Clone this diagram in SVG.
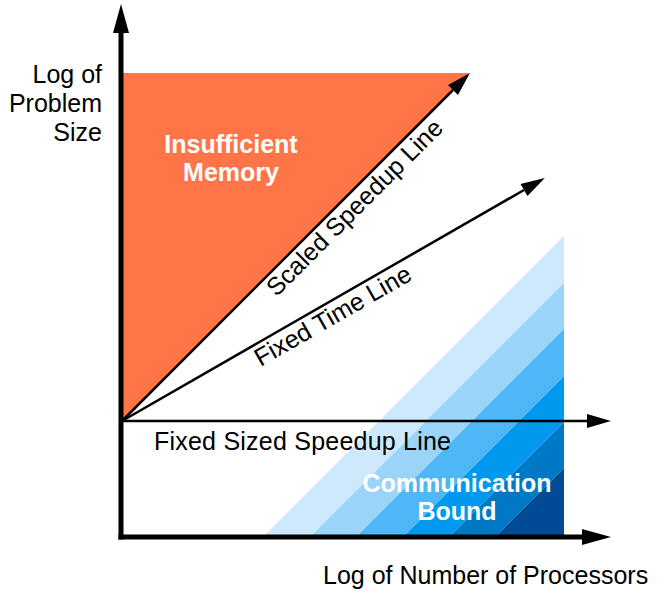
<svg xmlns="http://www.w3.org/2000/svg" width="659" height="592" viewBox="0 0 659 592">
  <style>
    .label { font-family: "Liberation Sans", Arial, Helvetica, sans-serif; font-size: 25px; fill: #000; }
    .region { font-family: "Liberation Sans", Arial, Helvetica, sans-serif; font-size: 25px; font-weight: bold; fill: #fff; text-anchor: middle; }
    .axis { stroke: #000; stroke-width: 5; fill: none; stroke-linecap: square; }
    .line { stroke: #000; stroke-width: 2.5; fill: none; }
  </style>
  <defs>
    <marker id="head-thick" markerUnits="userSpaceOnUse" markerWidth="30" markerHeight="16" refX="0" refY="8" orient="auto" overflow="visible">
      <path d="M0,0 L29,8 L0,16 Z" fill="#000"/>
    </marker>
    <marker id="head-thin" markerUnits="userSpaceOnUse" markerWidth="25" markerHeight="14" refX="0" refY="7" orient="auto" overflow="visible">
      <path d="M0,0 L24,7 L0,14 Z" fill="#000"/>
    </marker>
  </defs>

  <rect width="659" height="592" fill="#fff"/>

  <!-- Insufficient Memory region -->
  <g id="insufficient-memory">
    <polygon points="122,73 469,73 122,421" fill="#FF7548"/>
    <text class="region" x="231" y="153">Insufficient</text>
    <text class="region" x="231" y="181">Memory</text>
  </g>

  <!-- Communication Bound region: diagonal bands, light to dark -->
  <g id="communication-bound">
    <polygon points="263,537 310,537 564,283 564,236" fill="#CDE9FB"/>
    <polygon points="310,537 356,537 564,329 564,283" fill="#9AD4F8"/>
    <polygon points="356,537 403,537 564,376 564,329" fill="#4FB7F5"/>
    <polygon points="403,537 449,537 564,422 564,376" fill="#0099EE"/>
    <polygon points="449,537 495,537 564,468 564,422" fill="#0078C6"/>
    <polygon points="495,537 564,537 564,468" fill="#004B93"/>
    <text class="region" x="457" y="492">Communication</text>
    <text class="region" x="457" y="520">Bound</text>
  </g>

  <!-- axis titles -->
  <g id="y-axis-title">
    <text class="label" x="102" y="83" text-anchor="end">Log of</text>
    <text class="label" x="102" y="112" text-anchor="end">Problem</text>
    <text class="label" x="102" y="141" text-anchor="end">Size</text>
  </g>
  <g id="x-axis-title">
    <text class="label" x="323" y="584">Log of Number of Processors</text>
  </g>

  <!-- line labels -->
  <g id="scaled-speedup-label">
    <text class="label" x="360.5" y="213.5" text-anchor="middle" transform="rotate(-45 360.5 213.5)">Scaled Speedup Line</text>
  </g>
  <g id="fixed-time-label">
    <text class="label" x="337" y="323" text-anchor="middle" transform="rotate(-29.9 337 323)">Fixed Time Line</text>
  </g>
  <g id="fixed-size-label">
    <text class="label" x="154" y="450" textLength="297" lengthAdjust="spacing">Fixed Sized Speedup Line</text>
  </g>

  <!-- connectors: axes and speedup lines -->
  <g id="connectors">
    <path class="axis" d="M121,537 V33" marker-end="url(#head-thick)"/>
    <path class="axis" d="M121,537 H582" marker-end="url(#head-thick)"/>
    <path class="line" d="M122,421 H587" marker-end="url(#head-thin)"/>
    <path class="line" d="M122,421 L453,90" marker-end="url(#head-thin)"/>
    <path class="line" d="M122,421 L524,190" marker-end="url(#head-thin)"/>
  </g>
</svg>
